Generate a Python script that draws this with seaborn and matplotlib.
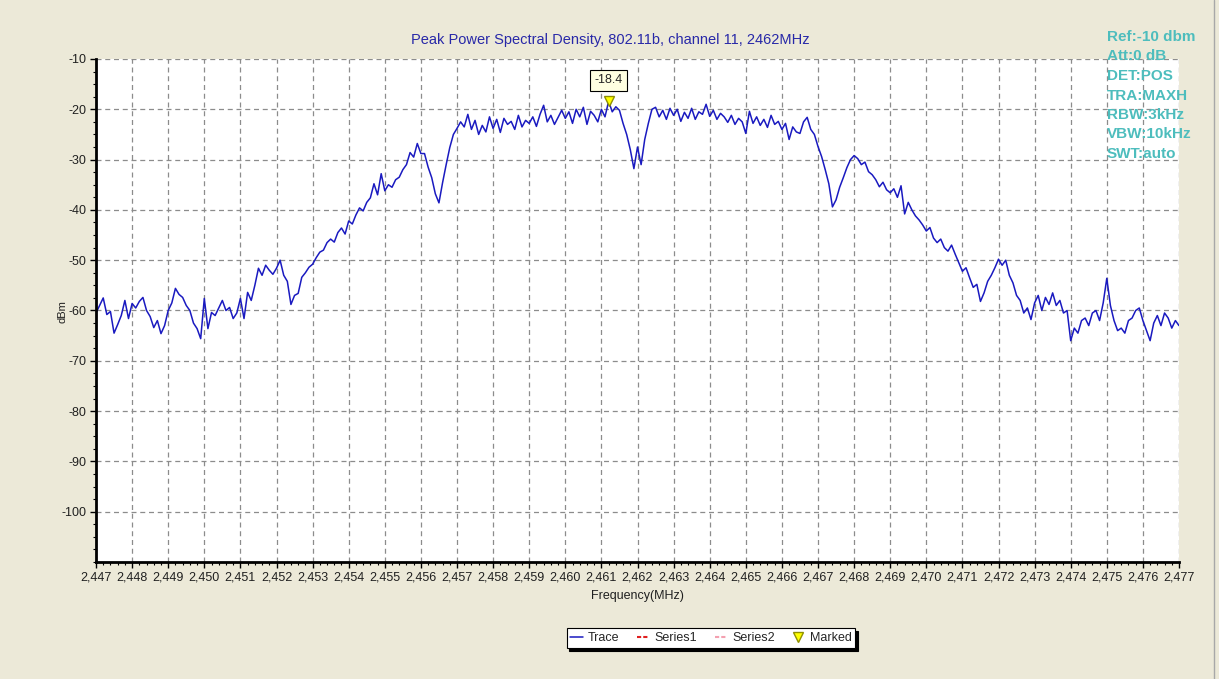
import numpy as np
import seaborn as sns
import matplotlib
matplotlib.use("Agg")
import matplotlib.pyplot as plt
from matplotlib.lines import Line2D
from matplotlib.ticker import MultipleLocator, FuncFormatter

# spectrum analyser trace, one value every 0.1 MHz from 2447.0 to 2477.0
f_start = 2447.0
f_step = 0.1
trace = [
    -60.5, -59.0, -57.5, -60.8, -60.2, -64.5, -62.8, -61.0, -58.0, -61.6,   # 2447
    -58.6, -59.5, -58.2, -57.4, -60.0, -61.2, -63.4, -62.0, -64.6, -63.0,   # 2448
    -60.0, -58.5, -55.6, -56.8, -57.4, -59.0, -60.0, -62.5, -63.6, -65.6,   # 2449
    -57.6, -63.6, -60.4, -61.0, -59.5, -58.0, -60.0, -59.4, -61.6, -60.5,   # 2450
    -57.6, -61.6, -56.4, -58.0, -55.0, -51.6, -53.0, -51.0, -52.0, -52.8,   # 2451
    -51.6, -50.0, -53.0, -54.2, -58.8, -57.0, -56.6, -53.4, -52.5, -51.4,   # 2452
    -50.8, -49.5, -48.4, -48.0, -46.5, -45.8, -46.4, -44.5, -43.6, -44.8,   # 2453
    -42.2, -42.8, -41.0, -39.6, -40.2, -38.5, -37.6, -34.8, -37.0, -32.8,   # 2454
    -36.2, -35.0, -35.5, -34.0, -33.5, -32.0, -31.0, -28.6, -29.5, -26.8,   # 2455
    -28.8, -28.8, -31.5, -33.6, -36.8, -38.6, -34.6, -31.0, -27.6, -25.0,   # 2456
    -23.8, -22.5, -23.5, -21.0, -24.0, -22.2, -25.0, -23.2, -24.5, -21.5,   # 2457
    -23.8, -22.0, -24.6, -21.8, -23.0, -22.4, -24.0, -21.2, -23.5, -22.2,   # 2458
    -22.8, -21.5, -23.4, -21.0, -19.2, -22.5, -21.2, -23.0, -21.6, -20.2,   # 2459
    -21.8, -20.5, -22.8, -20.0, -21.5, -19.6, -23.0, -20.4, -21.2, -22.5,   # 2460
    -20.0, -21.5, -18.4, -20.5, -19.5, -20.2, -22.8, -25.0, -28.0, -31.8,   # 2461
    -27.5, -31.0, -26.0, -22.8, -20.0, -19.6, -21.5, -20.2, -22.0, -19.8,   # 2462
    -21.2, -20.0, -22.4, -20.6, -21.8, -19.8, -22.0, -20.5, -21.0, -19.0,   # 2463
    -21.4, -20.2, -22.0, -20.8, -21.5, -22.6, -21.2, -23.0, -21.8, -22.5,   # 2464
    -24.8, -20.4, -22.8, -21.5, -23.2, -22.0, -23.6, -21.2, -23.0, -22.4,   # 2465
    -24.0, -22.8, -26.0, -23.5, -24.5, -24.8, -22.5, -21.6, -24.0, -25.0,   # 2466
    -27.4, -29.4, -32.0, -34.8, -39.4, -38.0, -35.5, -33.6, -31.6, -30.0,   # 2467
    -29.2, -29.8, -31.0, -30.5, -32.4, -33.0, -34.0, -35.4, -34.5, -36.0,   # 2468
    -36.6, -35.8, -37.5, -35.2, -40.8, -38.5, -40.0, -41.2, -42.0, -43.0,   # 2469
    -44.2, -43.5, -45.6, -46.5, -45.8, -47.5, -48.2, -47.0, -48.8, -50.5,   # 2470
    -52.2, -51.5, -53.5, -55.4, -54.8, -58.2, -56.5, -54.2, -53.0, -51.5,   # 2471
    -49.8, -51.0, -50.0, -53.0, -54.5, -57.0, -58.0, -60.5, -59.5, -61.8,   # 2472
    -58.5, -57.0, -60.0, -57.4, -58.8, -56.5, -59.0, -58.0, -60.5, -60.0,   # 2473
    -66.0, -63.5, -64.5, -62.0, -61.5, -63.0, -60.5, -60.0, -62.0, -58.5,   # 2474
    -53.6, -59.0, -62.0, -64.0, -63.5, -64.5, -62.0, -61.5, -60.0, -59.5,   # 2475
    -62.0, -64.0, -66.0, -62.5, -61.0, -63.0, -60.5, -61.5, -63.5, -62.0,   # 2476
    -63.0,                                                                   # 2477
]
freq = f_start + f_step * np.arange(len(trace))
series1 = []
series2 = []

x_ticks = list(range(2447, 2478))
y_ticks = list(range(-100, -9, 10))

settings = ["Ref:-10 dbm", "Att:0 dB", "DET:POS", "TRA:MAXH",
            "RBW:3kHz", "VBW:10kHz", "SWT:auto"]
title = "Peak Power Spectral Density, 802.11b, channel 11, 2462MHz"

sns.set_theme(style="white")
plt.rcParams['font.family'] = ['Liberation Sans', 'DejaVu Sans']
plt.rcParams['axes.unicode_minus'] = False

bg = '#ECE9D8'
fig = plt.figure(figsize=(12.19, 6.79), dpi=100, facecolor=bg)
ax = fig.add_axes([96 / 1219, 1 - 562 / 679, (1179 - 96) / 1219, (562 - 59) / 679])
ax.set_facecolor('white')

sns.lineplot(x=freq, y=trace, ax=ax, color='#1A1AC0', linewidth=1.1,
             label='Trace', legend=False)
ax.plot(series1, series1, color='#E02020', linestyle=(0, (2, 1)), label='Series1')
ax.plot(series2, series2, color='#F4A0B0', linestyle=(0, (2, 1)), label='Series2')

# marker at the maximum of the trace
i_pk = int(np.argmax(trace))
ax.plot([freq[i_pk]], [trace[i_pk]], linestyle='none', marker='v', markersize=7,
        markerfacecolor='#FFFF00', markeredgecolor='#909000', label='Marked',
        zorder=5)
ax.annotate(f"{trace[i_pk]:.1f}", (freq[i_pk], trace[i_pk]), xytext=(0, 15),
            textcoords='offset points', ha='center', va='center', fontsize=9,
            bbox=dict(boxstyle='square,pad=0.35', fc='#FFFFE1', ec='black', lw=0.8))

ax.set_xlim(2447, 2477)
ax.set_ylim(-110, -10)
ax.set_xticks(x_ticks)
ax.set_yticks(y_ticks)
ax.xaxis.set_major_formatter(FuncFormatter(lambda v, p: f"{int(round(v)):,}"))
ax.xaxis.set_minor_locator(MultipleLocator(0.2))
ax.yaxis.set_minor_locator(MultipleLocator(2.5))
ax.tick_params(which='major', direction='out', length=4, width=1, color='black',
               labelsize=9, labelcolor='#202020', pad=3,
               bottom=True, left=True)
ax.tick_params(which='minor', direction='out', length=2.5, width=0.8, color='black',
               bottom=True, left=True)

ax.grid(which='major', color='#8C8C8C', linestyle=(0, (4, 3)), linewidth=0.9)
for s in ['top', 'right']:
    ax.spines[s].set_visible(False)
for s in ['left', 'bottom']:
    ax.spines[s].set_color('black')
    ax.spines[s].set_linewidth(2)

ax.set_xlabel('')
ax.set_ylabel('')
fig.text(637 / 1219, 1 - 596 / 679, 'Frequency(MHz)', ha='center', va='center',
         fontsize=9, color='#202020')
fig.text(62 / 1219, 1 - 312 / 679, 'dBm', ha='center', va='center', rotation=90,
         fontsize=8, color='#202020')
fig.text(610 / 1219, 1 - 40 / 679, title, ha='center', va='center',
         fontsize=10.5, color='#2828A8')

for k, s in enumerate(settings):
    fig.text(1107 / 1219, 1 - (37 + 19.5 * k) / 679, s, ha='left', va='center',
             fontsize=11, fontweight='bold', color='#4DBDBD')

leg = fig.legend(loc='center', bbox_to_anchor=(711 / 1219, 1 - 638 / 679), ncol=4,
                 fontsize=9, frameon=True, fancybox=False, edgecolor='black',
                 facecolor='white', framealpha=1, handlelength=1.0,
                 handletextpad=0.4, columnspacing=1.4, borderpad=0.3,
                 shadow={'color': 'black', 'alpha': 1})
leg.get_frame().set_linewidth(0.8)

fig.add_artist(Line2D([1214 / 1219, 1214 / 1219], [0, 1], color='#A8A8A8',
                      linewidth=1, transform=fig.transFigure))

fig.savefig('out.png', dpi=100, facecolor=bg)
